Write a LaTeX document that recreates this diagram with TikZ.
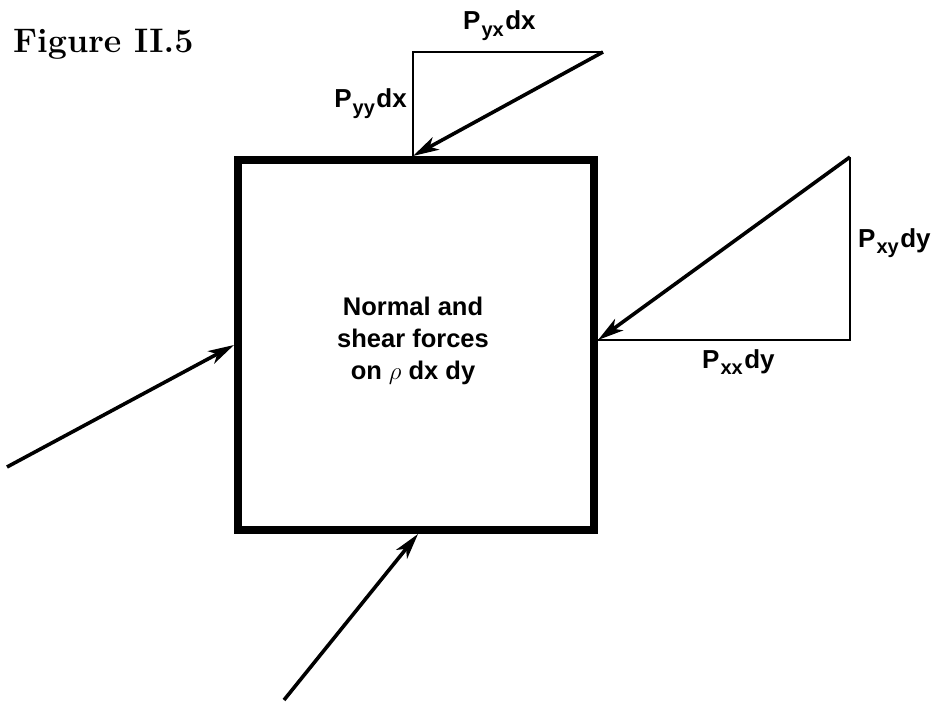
\documentclass[tikz,border=0pt]{standalone}
\usepackage{fontspec}
\setsansfont{Liberation Sans}
\usetikzlibrary{arrows.meta}
\newcommand\lowsub[1]{\kern1pt\raisebox{-6.5pt}{\fontsize{20}{20}\selectfont #1}\kern1.5pt}
\tikzset{
  force/.style={line width=3.6pt, -{Stealth[length=26pt,width=14pt,inset=7pt]}},
  tri/.style={line width=2.4pt, line join=miter},
  lbl/.style={font=\sffamily\bfseries\fontsize{26}{30}\selectfont, inner sep=0pt}
}
\begin{document}
\begin{tikzpicture}[x=1pt, y=-1pt]
  \useasboundingbox (0,0) rectangle (942,706);
  % title
  \node[anchor=base west, inner sep=0pt, font=\bfseries\fontsize{34}{38}\selectfont] (title) at (13,53) {Figure II.5};

  % element
  \draw[line width=8pt] (238,160) rectangle (594,530);
  \node[align=center, font=\sffamily\bfseries\fontsize{25.5}{32}\selectfont] (txt) at (413,341)
    {Normal and\\shear forces\\on $\rho$ dx dy};

  % points on the edges
  \coordinate (topP) at (413,156);
  \coordinate (rightP) at (598,340);
  \coordinate (leftP) at (234,345);
  \coordinate (botP) at (418,534);

  % top triangle
  \coordinate (yyT) at (413,52);
  \coordinate (yxT) at (603,52);
  \draw[tri] (topP) -- (yyT) -- (yxT);
  \draw[force] (yxT) -- (topP);
  \node[lbl, anchor=base east] (pyy) at (407,108) {P\lowsub{yy}dx};
  \node[lbl, anchor=base west] (pyx) at (463,30) {P\lowsub{yx}dx};

  % right triangle
  \coordinate (xyT) at (850,157);
  \coordinate (xxT) at (850,340);
  \draw[tri] (rightP) -- (xxT) -- (xyT);
  \draw[force] (xyT) -- (rightP);
  \node[lbl, anchor=base west] (pxy) at (858,247) {P\lowsub{xy}dy};
  \node[lbl, anchor=base west] (pxx) at (702,368) {P\lowsub{xx}dy};

  % incoming forces
  \coordinate (leftS) at (7,467);
  \coordinate (botS) at (284,700);
  \draw[force] (leftS) -- (leftP);
  \draw[force] (botS) -- (botP);
\end{tikzpicture}
\end{document}
